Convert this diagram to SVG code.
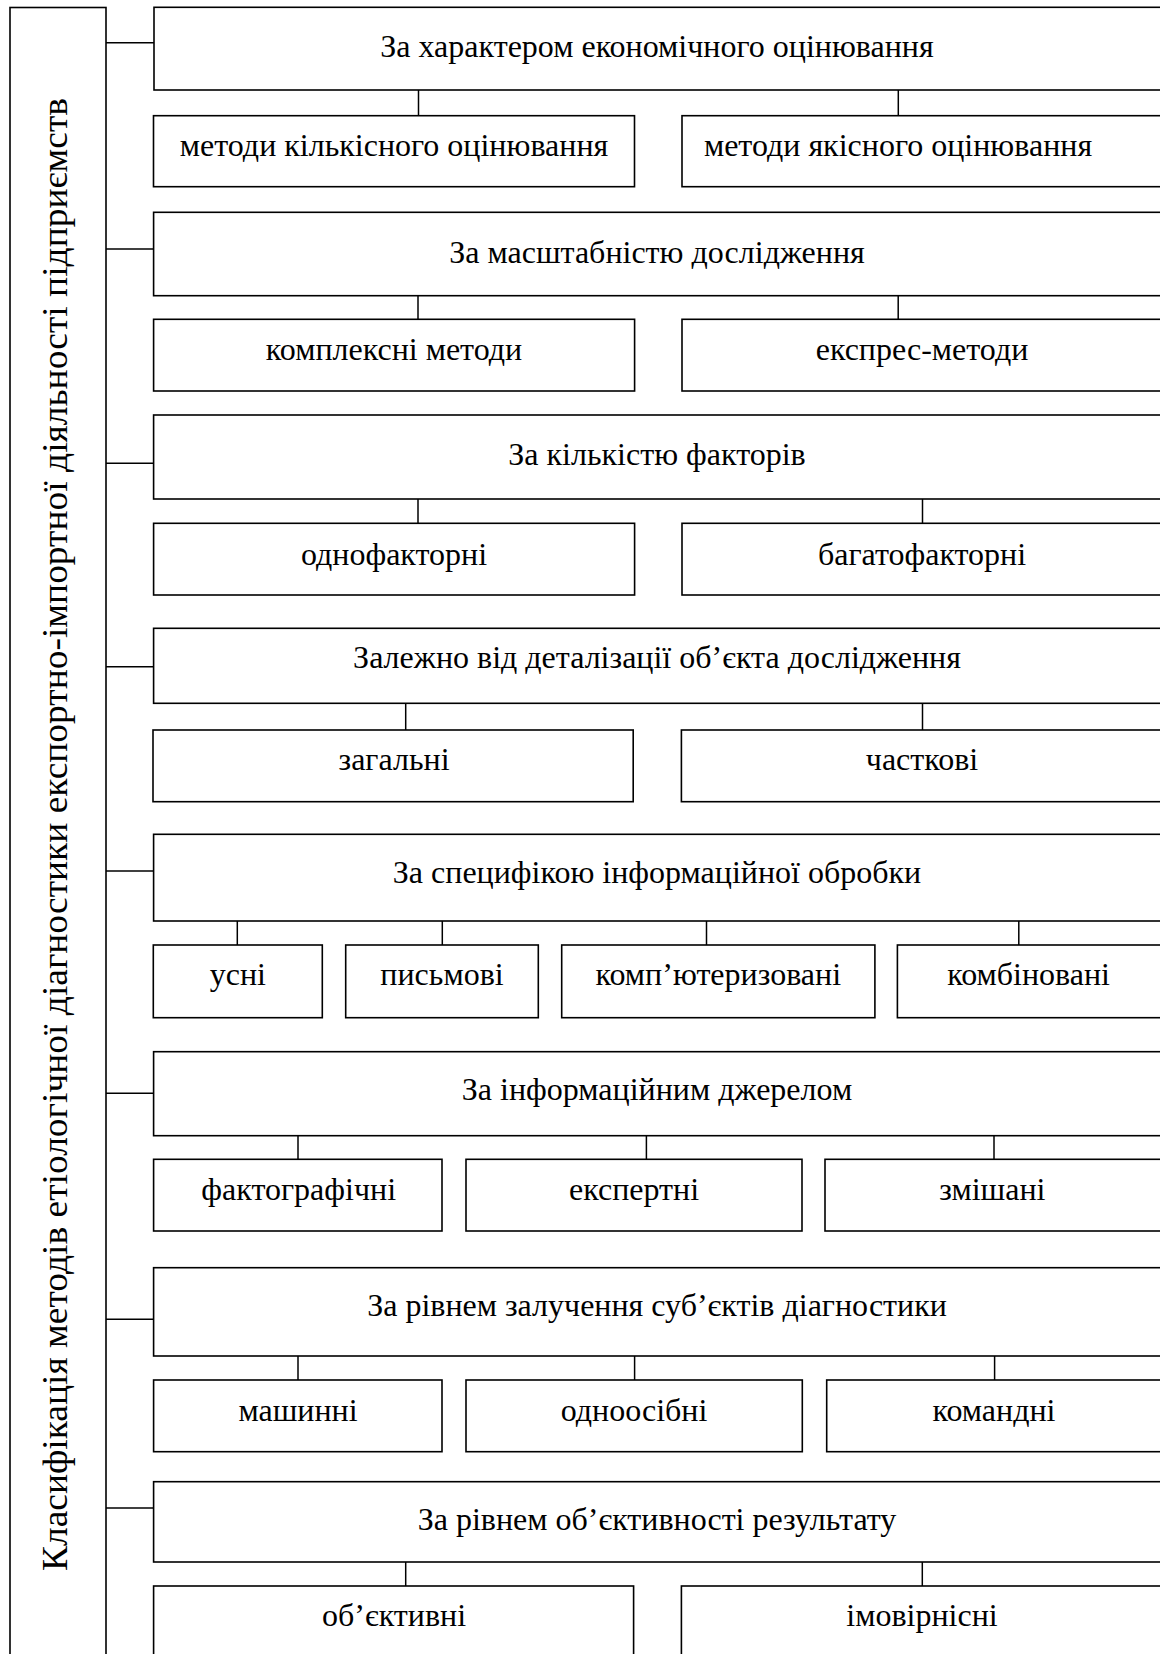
<svg xmlns="http://www.w3.org/2000/svg" width="1160" height="1654" viewBox="0 0 1160 1654">
<style>
rect{fill:#fff;stroke:#000;stroke-width:1.6}
line{stroke:#000;stroke-width:1.5}
text{font-family:"Liberation Serif","Times New Roman",serif;font-size:32px;fill:#000;text-anchor:middle}
.t{font-size:35px}
</style>
<rect x="0" y="0" width="1160" height="1654" style="stroke:none"/>
<g id="title">
<rect x="10" y="7.5" width="96" height="1660"/>
<text class="t" transform="translate(67,834.5) rotate(-90)" textLength="1473" lengthAdjust="spacingAndGlyphs">Класифікація методів етіологічної діагностики експортно-імпортної діяльності підприємств</text>
</g>
<g id="connectors">
<line x1="106" y1="42.7" x2="154" y2="42.7"/>
<line x1="106" y1="249" x2="154" y2="249"/>
<line x1="106" y1="463.3" x2="154" y2="463.3"/>
<line x1="106" y1="666.7" x2="154" y2="666.7"/>
<line x1="106" y1="871" x2="154" y2="871"/>
<line x1="106" y1="1093.3" x2="154" y2="1093.3"/>
<line x1="106" y1="1319.3" x2="154" y2="1319.3"/>
<line x1="106" y1="1508" x2="154" y2="1508"/>
<line x1="418.5" y1="90" x2="418.5" y2="115.7"/>
<line x1="898.3" y1="90" x2="898.3" y2="115.7"/>
<line x1="418" y1="295.7" x2="418" y2="319.3"/>
<line x1="898.2" y1="295.7" x2="898.2" y2="319.3"/>
<line x1="418" y1="499" x2="418" y2="523.3"/>
<line x1="922.5" y1="499" x2="922.5" y2="523.3"/>
<line x1="405.7" y1="703.3" x2="405.7" y2="730"/>
<line x1="922.5" y1="703.3" x2="922.5" y2="730"/>
<line x1="237.3" y1="921" x2="237.3" y2="945"/>
<line x1="442.3" y1="921" x2="442.3" y2="945"/>
<line x1="706.5" y1="921" x2="706.5" y2="945"/>
<line x1="1018.8" y1="917" x2="1018.8" y2="945"/>
<line x1="298" y1="1135.7" x2="298" y2="1159.3"/>
<line x1="646.4" y1="1135.7" x2="646.4" y2="1159.3"/>
<line x1="994" y1="1135.7" x2="994" y2="1159.3"/>
<line x1="298" y1="1356" x2="298" y2="1380"/>
<line x1="634.6" y1="1356" x2="634.6" y2="1380"/>
<line x1="994.6" y1="1356" x2="994.6" y2="1380"/>
<line x1="405.7" y1="1562" x2="405.7" y2="1586"/>
<line x1="922.3" y1="1562" x2="922.3" y2="1586"/>
</g>
<g id="h1"><rect x="154" y="7.3" width="1012" height="82.7"/><text x="657" y="56.7">За характером економічного оцінювання</text></g>
<g id="s1a"><rect x="153.5" y="115.7" width="481" height="71"/><text x="394" y="156">методи кількісного оцінювання</text></g>
<g id="s1b"><rect x="682" y="115.7" width="484" height="71"/><text x="898" y="156">методи якісного оцінювання</text></g>
<g id="h2"><rect x="153.6" y="212.3" width="1012" height="83.4"/><text x="657" y="263">За масштабністю дослідження</text></g>
<g id="s2a"><rect x="153.6" y="319.3" width="481" height="71.7"/><text x="394" y="360">комплексні методи</text></g>
<g id="s2b"><rect x="682" y="319.3" width="484" height="71.7"/><text x="922" y="360">експрес-методи</text></g>
<g id="h3"><rect x="153.6" y="415" width="1012" height="84"/><text x="657" y="465">За кількістю факторів</text></g>
<g id="s3a"><rect x="153.6" y="523.3" width="481" height="71.7"/><text x="394" y="565">однофакторні</text></g>
<g id="s3b"><rect x="682" y="523.3" width="484" height="71.7"/><text x="922" y="565">багатофакторні</text></g>
<g id="h4"><rect x="153.6" y="628.3" width="1012" height="75"/><text x="657" y="668">Залежно від деталізації об’єкта дослідження</text></g>
<g id="s4a"><rect x="153" y="730" width="480.2" height="71.7"/><text x="394" y="770">загальні</text></g>
<g id="s4b"><rect x="681.4" y="730" width="484" height="71.7"/><text x="922" y="770">часткові</text></g>
<g id="h5"><rect x="153.6" y="834.3" width="1012" height="86.7"/><text x="657" y="883">За специфікою інформаційної обробки</text></g>
<g id="s5a"><rect x="153.3" y="945" width="169" height="72.7"/><text x="237.8" y="985">усні</text></g>
<g id="s5b"><rect x="345.7" y="945" width="192.6" height="72.7"/><text x="442" y="985">письмові</text></g>
<g id="s5c"><rect x="561.7" y="945" width="313.2" height="72.7"/><text x="718.3" y="985">комп’ютеризовані</text></g>
<g id="s5d"><rect x="897.4" y="945" width="270" height="72.7"/><text x="1028.6" y="985">комбіновані</text></g>
<g id="h6"><rect x="153.6" y="1051.7" width="1012" height="84"/><text x="657" y="1100">За інформаційним джерелом</text></g>
<g id="s6a"><rect x="153.6" y="1159.3" width="288.4" height="71.7"/><text x="298.7" y="1200">фактографічні</text></g>
<g id="s6b"><rect x="466" y="1159.3" width="336" height="71.7"/><text x="634" y="1200">експертні</text></g>
<g id="s6c"><rect x="825" y="1159.3" width="341" height="71.7"/><text x="992.3" y="1200">змішані</text></g>
<g id="h7"><rect x="153.6" y="1267.7" width="1012" height="88.3"/><text x="657" y="1316">За рівнем залучення суб’єктів діагностики</text></g>
<g id="s7a"><rect x="153.6" y="1380" width="288.4" height="71.7"/><text x="298" y="1421">машинні</text></g>
<g id="s7b"><rect x="466" y="1380" width="336.3" height="71.7"/><text x="634" y="1421">одноосібні</text></g>
<g id="s7c"><rect x="826.7" y="1380" width="340" height="71.7"/><text x="994" y="1421">командні</text></g>
<g id="h8"><rect x="153.6" y="1481.7" width="1012" height="80.3"/><text x="657" y="1530">За рівнем об’єктивності результату</text></g>
<g id="s8a"><rect x="153.6" y="1586" width="480" height="80"/><text x="394" y="1626">об’єктивні</text></g>
<g id="s8b"><rect x="681.4" y="1586" width="484" height="80"/><text x="922" y="1626">імовірнісні</text></g>
</svg>
